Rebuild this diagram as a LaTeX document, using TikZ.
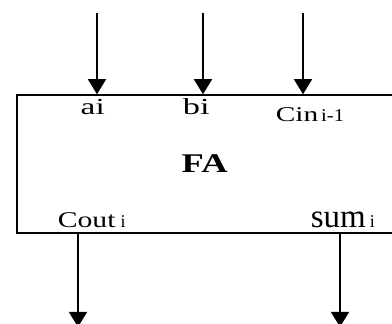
\documentclass[tikz,border=0pt]{standalone}
\usepackage{fontspec}
\setmainfont{Liberation Serif}
\usepackage{graphicx}
\usetikzlibrary{positioning, arrows.meta}

\newcommand{\wide}[2][1.4]{\scalebox{#1}[1]{#2}}
\newcommand{\fs}[1]{\fontsize{#1}{#1}\selectfont}

\begin{document}
\begin{tikzpicture}[x=1pt, y=1pt, line width=1.5pt,
    sig/.style={-{Triangle[width=18pt, length=15pt]}},
    port/.style={inner sep=0pt, anchor=base west},
  ]
  \useasboundingbox (0,0) rectangle (392,324);
  \clip (0,0) rectangle (392,324);

  % the adder block (right side runs out of the picture)
  \node[draw, minimum width=383pt, minimum height=138pt] (fa) at (208.5,160) {};
  \node[port, font=\fs{27}\bfseries] (falbl) at (181,151) {\wide[1.35]{FA}};

  % port labels
  \node[port, font=\fs{23}] (ai) at (80,209) {\wide[1.45]{ai}};
  \node[port, font=\fs{23}] (bi) at (182,209) {\wide[1.5]{bi}};
  \node[port, font=\fs{21}] (cin) at (275,202)
    {\wide{Cin}\kern3pt{\fs{18}\wide[1.15]{i-1}}};
  \node[port, font=\fs{22.5}] (cout) at (57,96)
    {\wide[1.32]{Cout}\kern5pt{\fs{18}i}};
  \node[port, font=\fs{33}] (sum) at (310,96)
    {sum\kern4pt{\fs{18}i}};

  % free ends of the wires
  \coordinate (a0) at (97,311);
  \coordinate (b0) at (203,311);
  \coordinate (c0) at (303,311);
  \coordinate (co) at (78,-3);
  \coordinate (so) at (340,-3);

  \draw[sig] (a0) -- (a0 |- fa.north);
  \draw[sig] (b0) -- (b0 |- fa.north);
  \draw[sig] (c0) -- (c0 |- fa.north);
  \draw[sig] (co |- fa.south) -- (co);
  \draw[sig] (so |- fa.south) -- (so);
\end{tikzpicture}
\end{document}
